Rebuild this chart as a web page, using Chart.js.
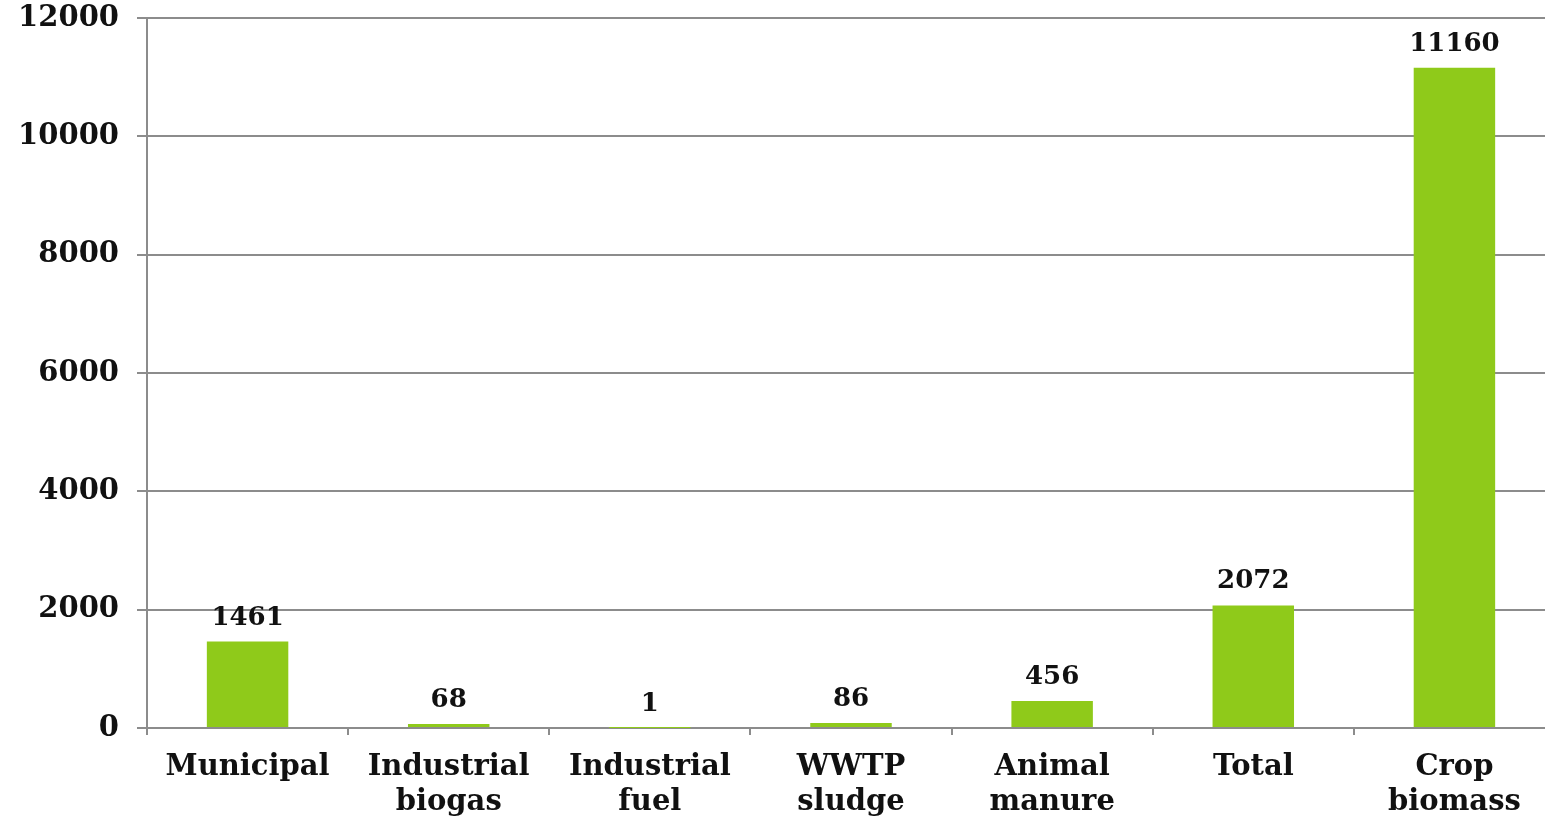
<!DOCTYPE html>
<html>
<head>
<meta charset="utf-8">
<script src="https://cdn.jsdelivr.net/npm/chart.js@4"></script>
<style>
html,body{margin:0;padding:0;background:#fff;overflow:hidden;}
#wrap{width:1545px;height:819px;position:relative;overflow:hidden;}
</style>
</head>
<body>
<div id="wrap"><canvas id="c" width="1555" height="819"></canvas></div>
<script>
const categories = [["Municipal"], ["Industrial", "biogas"], ["Industrial", "fuel"], ["WWTP", "sludge"], ["Animal", "manure"], ["Total"], ["Crop", "biomass"]];
const values = [1461, 68, 1, 86, 456, 2072, 11160];
const yTicks = [0, 2000, 4000, 6000, 8000, 10000, 12000];

const FONT = '"DejaVu Serif", Georgia, serif';

const valueLabels = {
  id: 'valueLabels',
  afterDatasetsDraw(chart) {
    const ctx = chart.ctx;
    const meta = chart.getDatasetMeta(0);
    ctx.save();
    ctx.font = 'bold 26px ' + FONT;
    ctx.fillStyle = '#111';
    ctx.textAlign = 'center';
    ctx.textBaseline = 'alphabetic';
    meta.data.forEach((bar, i) => {
      ctx.fillText(String(values[i]), bar.x, bar.y - 17);
    });
    ctx.restore();
  }
};

new Chart(document.getElementById('c'), {
  type: 'bar',
  data: {
    labels: categories,
    datasets: [{
      data: values,
      backgroundColor: '#8fca1a',
      borderWidth: 0,
      barPercentage: 0.405,
      categoryPercentage: 1
    }]
  },
  options: {
    responsive: false,
    animation: false,
    layout: { padding: { top: 18, right: 0, left: 0, bottom: 0 } },
    plugins: { legend: { display: false }, tooltip: { enabled: false } },
    scales: {
      x: {
        offset: true,
        grid: { offset: true, drawOnChartArea: false, drawTicks: true, tickLength: 7, color: '#8c8c8c', lineWidth: 2 },
        border: { display: true, color: '#8c8c8c', width: 2 },
        ticks: { color: '#111', font: { family: FONT, size: 29, weight: 'bold', lineHeight: 1.2 }, padding: 15, maxRotation: 0, autoSkip: false },
        afterFit(s) { s.height = 91; s.paddingLeft = 0; s.paddingRight = 0; }
      },
      y: {
        min: 0, max: 12000,
        afterBuildTicks(s) { s.ticks = yTicks.map(v => ({ value: v })); },
        grid: { color: '#8c8c8c', lineWidth: 2, drawTicks: true, tickLength: 10 },
        border: { display: true, color: '#8c8c8c', width: 2 },
        ticks: { color: '#111', font: { family: FONT, size: 29, weight: 'bold' }, padding: 18, callback: v => String(v) },
        afterFit(s) { s.width = 147; s.paddingTop = 0; s.paddingBottom = 0; }
      }
    }
  },
  plugins: [valueLabels]
});
</script>
</body>
</html>
